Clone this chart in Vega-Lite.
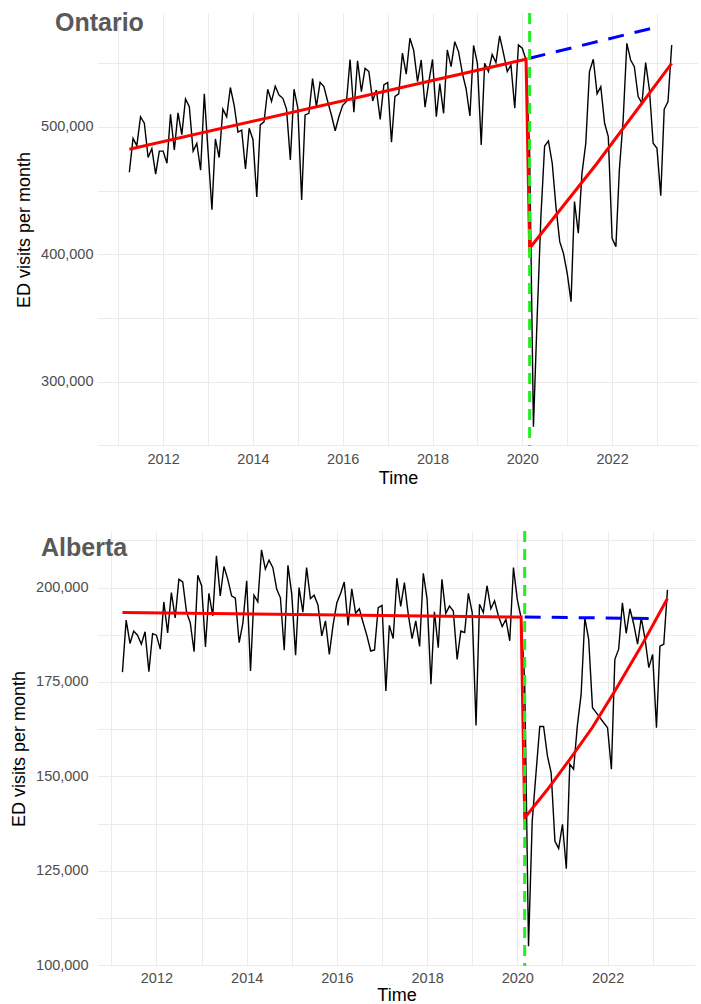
{
"$schema": "https://vega.github.io/schema/vega-lite/v6.json",
"background": "white",
"padding": {"left": 10, "top": 10, "right": 1, "bottom": 0},
"config": {
  "view": {"stroke": null},
  "font": "Liberation Sans",
  "axis": {"grid": true, "gridColor": "#EBEBEB", "gridWidth": 1, "ticks": false, "tickSize": 0, "domain": false, "labelColor": "#4D4D4D", "labelFont": "Liberation Sans", "labelFontSize": 14.5, "titleFont": "Liberation Sans", "titleFontSize": 18, "titleFontWeight": "normal", "titleColor": "#000000"},
  "title": {"font": "Liberation Sans", "fontSize": 25, "fontWeight": "bold", "color": "#595959", "anchor": "start"},
  "concat": {"spacing": 41}
},
"datasets": {
"on_obs": [
{"date":"2011-04-01","visits":464400},{"date":"2011-05-01","visits":491000},{"date":"2011-06-01","visits":485300},{"date":"2011-07-01","visits":508000},{"date":"2011-08-01","visits":503000},{"date":"2011-09-01","visits":476000},{"date":"2011-10-01","visits":483000},{"date":"2011-11-01","visits":463000},{"date":"2011-12-01","visits":481000},
{"date":"2012-01-01","visits":481000},{"date":"2012-02-01","visits":471500},{"date":"2012-03-01","visits":510000},{"date":"2012-04-01","visits":482000},{"date":"2012-05-01","visits":511000},{"date":"2012-06-01","visits":494000},{"date":"2012-07-01","visits":522000},{"date":"2012-08-01","visits":516000},{"date":"2012-09-01","visits":481000},{"date":"2012-10-01","visits":487000},{"date":"2012-11-01","visits":466000},{"date":"2012-12-01","visits":526000},
{"date":"2013-01-01","visits":480000},{"date":"2013-02-01","visits":435000},{"date":"2013-03-01","visits":490600},{"date":"2013-04-01","visits":476000},{"date":"2013-05-01","visits":514000},{"date":"2013-06-01","visits":508000},{"date":"2013-07-01","visits":531000},{"date":"2013-08-01","visits":517000},{"date":"2013-09-01","visits":496000},{"date":"2013-10-01","visits":497600},{"date":"2013-11-01","visits":467000},{"date":"2013-12-01","visits":499000},
{"date":"2014-01-01","visits":490000},{"date":"2014-02-01","visits":445000},{"date":"2014-03-01","visits":501600},{"date":"2014-04-01","visits":504000},{"date":"2014-05-01","visits":529600},{"date":"2014-06-01","visits":520000},{"date":"2014-07-01","visits":532000},{"date":"2014-08-01","visits":525000},{"date":"2014-09-01","visits":522500},{"date":"2014-10-01","visits":514000},{"date":"2014-11-01","visits":474000},{"date":"2014-12-01","visits":529600},
{"date":"2015-01-01","visits":514700},{"date":"2015-02-01","visits":442600},{"date":"2015-03-01","visits":509400},{"date":"2015-04-01","visits":510700},{"date":"2015-05-01","visits":538000},{"date":"2015-06-01","visits":516000},{"date":"2015-07-01","visits":535000},{"date":"2015-08-01","visits":531700},{"date":"2015-09-01","visits":520000},{"date":"2015-10-01","visits":509400},{"date":"2015-11-01","visits":497000},{"date":"2015-12-01","visits":508000},
{"date":"2016-01-01","visits":517000},{"date":"2016-02-01","visits":520000},{"date":"2016-03-01","visits":553000},{"date":"2016-04-01","visits":511500},{"date":"2016-05-01","visits":552000},{"date":"2016-06-01","visits":527700},{"date":"2016-07-01","visits":546000},{"date":"2016-08-01","visits":543500},{"date":"2016-09-01","visits":520400},{"date":"2016-10-01","visits":529000},{"date":"2016-11-01","visits":506000},{"date":"2016-12-01","visits":533000},
{"date":"2017-01-01","visits":535000},{"date":"2017-02-01","visits":488000},{"date":"2017-03-01","visits":524000},{"date":"2017-04-01","visits":526000},{"date":"2017-05-01","visits":558000},{"date":"2017-06-01","visits":541500},{"date":"2017-07-01","visits":569700},{"date":"2017-08-01","visits":560000},{"date":"2017-09-01","visits":535600},{"date":"2017-10-01","visits":552600},{"date":"2017-11-01","visits":515500},{"date":"2017-12-01","visits":535000},
{"date":"2018-01-01","visits":553000},{"date":"2018-02-01","visits":508000},{"date":"2018-03-01","visits":534000},{"date":"2018-04-01","visits":510700},{"date":"2018-05-01","visits":560500},{"date":"2018-06-01","visits":547400},{"date":"2018-07-01","visits":567000},{"date":"2018-08-01","visits":559000},{"date":"2018-09-01","visits":542000},{"date":"2018-10-01","visits":530000},{"date":"2018-11-01","visits":508600},{"date":"2018-12-01","visits":564000},
{"date":"2019-01-01","visits":550000},{"date":"2019-02-01","visits":485900},{"date":"2019-03-01","visits":550000},{"date":"2019-04-01","visits":543500},{"date":"2019-05-01","visits":557000},{"date":"2019-06-01","visits":550500},{"date":"2019-07-01","visits":571500},{"date":"2019-08-01","visits":558000},{"date":"2019-09-01","visits":543500},{"date":"2019-10-01","visits":548700},{"date":"2019-11-01","visits":514700},{"date":"2019-12-01","visits":564400},
{"date":"2020-01-01","visits":561800},{"date":"2020-02-01","visits":552600},{"date":"2020-03-01","visits":480000},{"date":"2020-04-01","visits":264600},{"date":"2020-05-01","visits":350000},{"date":"2020-06-01","visits":430000},{"date":"2020-07-01","visits":485000},{"date":"2020-08-01","visits":489000},{"date":"2020-09-01","visits":471500},{"date":"2020-10-01","visits":437400},{"date":"2020-11-01","visits":409900},{"date":"2020-12-01","visits":400800},
{"date":"2021-01-01","visits":385000},{"date":"2021-02-01","visits":362800},{"date":"2021-03-01","visits":441400},{"date":"2021-04-01","visits":416500},{"date":"2021-05-01","visits":463600},{"date":"2021-06-01","visits":487200},{"date":"2021-07-01","visits":543500},{"date":"2021-08-01","visits":553200},{"date":"2021-09-01","visits":526000},{"date":"2021-10-01","visits":531700},{"date":"2021-11-01","visits":502900},{"date":"2021-12-01","visits":492400},
{"date":"2022-01-01","visits":412600},{"date":"2022-02-01","visits":406000},{"date":"2022-03-01","visits":466200},{"date":"2022-04-01","visits":505500},{"date":"2022-05-01","visits":565700},{"date":"2022-06-01","visits":552600},{"date":"2022-07-01","visits":547400},{"date":"2022-08-01","visits":523800},{"date":"2022-09-01","visits":518600},{"date":"2022-10-01","visits":550500},{"date":"2022-11-01","visits":529000},{"date":"2022-12-01","visits":487200},
{"date":"2023-01-01","visits":483300},{"date":"2023-02-01","visits":446000},{"date":"2023-03-01","visits":513900},{"date":"2023-04-01","visits":519900},{"date":"2023-05-01","visits":564400}
],
"on_fit": [
{"date":"2011-04-01","visits":482500},{"date":"2020-02-01","visits":553200},{"date":"2020-03-01","visits":404700},{"date":"2021-09-01","visits":471500},{"date":"2023-05-01","visits":550000}
],
"on_cf": [
{"date":"2020-03-01","visits":554000},{"date":"2023-01-01","visits":578500}
],
"ab_obs": [
{"date":"2011-04-01","visits":177600},{"date":"2011-05-01","visits":191400},{"date":"2011-06-01","visits":185200},{"date":"2011-07-01","visits":188500},{"date":"2011-08-01","visits":187400},{"date":"2011-09-01","visits":185000},{"date":"2011-10-01","visits":188300},{"date":"2011-11-01","visits":177700},{"date":"2011-12-01","visits":187800},
{"date":"2012-01-01","visits":187400},{"date":"2012-02-01","visits":183700},{"date":"2012-03-01","visits":196200},{"date":"2012-04-01","visits":188000},{"date":"2012-05-01","visits":198700},{"date":"2012-06-01","visits":192000},{"date":"2012-07-01","visits":202200},{"date":"2012-08-01","visits":201500},{"date":"2012-09-01","visits":193500},{"date":"2012-10-01","visits":190700},{"date":"2012-11-01","visits":183000},{"date":"2012-12-01","visits":203300},
{"date":"2013-01-01","visits":200500},{"date":"2013-02-01","visits":184300},{"date":"2013-03-01","visits":198500},{"date":"2013-04-01","visits":192500},{"date":"2013-05-01","visits":208400},{"date":"2013-06-01","visits":197800},{"date":"2013-07-01","visits":205600},{"date":"2013-08-01","visits":202200},{"date":"2013-09-01","visits":197800},{"date":"2013-10-01","visits":197200},{"date":"2013-11-01","visits":185400},{"date":"2013-12-01","visits":190600},
{"date":"2014-01-01","visits":201800},{"date":"2014-02-01","visits":177900},{"date":"2014-03-01","visits":198000},{"date":"2014-04-01","visits":196200},{"date":"2014-05-01","visits":210000},{"date":"2014-06-01","visits":204900},{"date":"2014-07-01","visits":207300},{"date":"2014-08-01","visits":205300},{"date":"2014-09-01","visits":199600},{"date":"2014-10-01","visits":197300},{"date":"2014-11-01","visits":183400},{"date":"2014-12-01","visits":205900},
{"date":"2015-01-01","visits":198200},{"date":"2015-02-01","visits":182100},{"date":"2015-03-01","visits":200000},{"date":"2015-04-01","visits":193500},{"date":"2015-05-01","visits":205300},{"date":"2015-06-01","visits":197100},{"date":"2015-07-01","visits":198000},{"date":"2015-08-01","visits":195400},{"date":"2015-09-01","visits":187200},{"date":"2015-10-01","visits":191200},{"date":"2015-11-01","visits":182300},{"date":"2015-12-01","visits":190000},
{"date":"2016-01-01","visits":196000},{"date":"2016-02-01","visits":198500},{"date":"2016-03-01","visits":201500},{"date":"2016-04-01","visits":190000},{"date":"2016-05-01","visits":199700},{"date":"2016-06-01","visits":193200},{"date":"2016-07-01","visits":194400},{"date":"2016-08-01","visits":190700},{"date":"2016-09-01","visits":187200},{"date":"2016-10-01","visits":183200},{"date":"2016-11-01","visits":183500},{"date":"2016-12-01","visits":194700},
{"date":"2017-01-01","visits":195300},{"date":"2017-02-01","visits":172600},{"date":"2017-03-01","visits":190000},{"date":"2017-04-01","visits":186500},{"date":"2017-05-01","visits":202500},{"date":"2017-06-01","visits":195000},{"date":"2017-07-01","visits":201300},{"date":"2017-08-01","visits":193000},{"date":"2017-09-01","visits":186500},{"date":"2017-10-01","visits":191200},{"date":"2017-11-01","visits":184400},{"date":"2017-12-01","visits":203800},
{"date":"2018-01-01","visits":196900},{"date":"2018-02-01","visits":174400},{"date":"2018-03-01","visits":193600},{"date":"2018-04-01","visits":184100},{"date":"2018-05-01","visits":202200},{"date":"2018-06-01","visits":193200},{"date":"2018-07-01","visits":195100},{"date":"2018-08-01","visits":193800},{"date":"2018-09-01","visits":181000},{"date":"2018-10-01","visits":188500},{"date":"2018-11-01","visits":188100},{"date":"2018-12-01","visits":198500},
{"date":"2019-01-01","visits":193400},{"date":"2019-02-01","visits":163500},{"date":"2019-03-01","visits":195600},{"date":"2019-04-01","visits":193400},{"date":"2019-05-01","visits":200500},{"date":"2019-06-01","visits":194400},{"date":"2019-07-01","visits":196500},{"date":"2019-08-01","visits":192500},{"date":"2019-09-01","visits":189700},{"date":"2019-10-01","visits":191600},{"date":"2019-11-01","visits":185900},{"date":"2019-12-01","visits":205300},
{"date":"2020-01-01","visits":196900},{"date":"2020-02-01","visits":192000},{"date":"2020-03-01","visits":175000},{"date":"2020-04-01","visits":105000},{"date":"2020-05-01","visits":138200},{"date":"2020-06-01","visits":151000},{"date":"2020-07-01","visits":163200},{"date":"2020-08-01","visits":163200},{"date":"2020-09-01","visits":155400},{"date":"2020-10-01","visits":151000},{"date":"2020-11-01","visits":132800},{"date":"2020-12-01","visits":130900},
{"date":"2021-01-01","visits":137300},{"date":"2021-02-01","visits":125500},{"date":"2021-03-01","visits":153200},{"date":"2021-04-01","visits":151900},{"date":"2021-05-01","visits":163300},{"date":"2021-06-01","visits":171700},{"date":"2021-07-01","visits":192000},{"date":"2021-08-01","visits":186300},{"date":"2021-09-01","visits":168200},{"date":"2021-10-01","visits":166900},{"date":"2021-11-01","visits":165500},{"date":"2021-12-01","visits":164200},
{"date":"2022-01-01","visits":162900},{"date":"2022-02-01","visits":151900},{"date":"2022-03-01","visits":181000},{"date":"2022-04-01","visits":183700},{"date":"2022-05-01","visits":196000},{"date":"2022-06-01","visits":187900},{"date":"2022-07-01","visits":194400},{"date":"2022-08-01","visits":190300},{"date":"2022-09-01","visits":185000},{"date":"2022-10-01","visits":192000},{"date":"2022-11-01","visits":186300},{"date":"2022-12-01","visits":178800},
{"date":"2023-01-01","visits":182300},{"date":"2023-02-01","visits":162900},{"date":"2023-03-01","visits":184500},{"date":"2023-04-01","visits":185000},{"date":"2023-05-01","visits":199400}
],
"ab_fit": [
{"date":"2011-04-01","visits":193400},{"date":"2020-02-01","visits":192200},{"date":"2020-03-01","visits":139000},{"date":"2020-09-01","visits":146500},{"date":"2021-03-01","visits":154500},{"date":"2021-09-01","visits":163000},{"date":"2022-03-01","visits":172600},{"date":"2022-10-01","visits":184500},{"date":"2023-05-01","visits":197100}
],
"ab_cf": [
{"date":"2020-03-01","visits":192200},{"date":"2023-02-01","visits":191800}
],
"intervention": [{"date":"2020-03-01"}]
},
"vconcat": [
{
  "title": {"text": "Ontario", "frame": "group", "anchor": "start", "offset": 0, "baseline": "alphabetic", "dx": -43, "dy": 44.4},
  "width": 600, "height": 433,
  "layer": [
    {"data": {"name": "on_obs"}, "mark": {"type": "line", "color": "#000000", "strokeWidth": 1.4},
     "encoding": {
       "x": {"field": "date", "type": "temporal", "title": "Time",
             "scale": {"type": "utc", "domain": [{"year": 2010, "month": 7, "date": 20, "utc": true}, {"year": 2023, "month": 12, "date": 1, "utc": true}]},
             "axis": {"format": "%Y", "labelPadding": 6, "titlePadding": 4,
                      "values": [{"year":2011,"utc":true},{"year":2012,"utc":true},{"year":2013,"utc":true},{"year":2014,"utc":true},{"year":2015,"utc":true},{"year":2016,"utc":true},{"year":2017,"utc":true},{"year":2018,"utc":true},{"year":2019,"utc":true},{"year":2020,"utc":true},{"year":2021,"utc":true},{"year":2022,"utc":true},{"year":2023,"utc":true}],
                      "labelExpr": "utcyear(datum.value) % 2 === 0 ? datum.label : ''"}},
       "y": {"field": "visits", "type": "quantitative", "title": "ED visits per month",
             "scale": {"domain": [249400, 589500], "nice": false, "zero": false},
             "axis": {"labelPadding": 5, "titlePadding": 7, "values": [250000, 300000, 350000, 400000, 450000, 500000, 550000],
                      "labelExpr": "datum.value % 100000 === 0 ? format(datum.value, ',') : ''"}}
     }},
    {"data": {"name": "on_fit"}, "mark": {"type": "line", "color": "#FF0000", "strokeWidth": 3},
     "encoding": {"x": {"field": "date", "type": "temporal"}, "y": {"field": "visits", "type": "quantitative"}}},
    {"data": {"name": "on_cf"}, "mark": {"type": "line", "color": "#0000FF", "strokeWidth": 3, "strokeDash": [16, 11]},
     "encoding": {"x": {"field": "date", "type": "temporal"}, "y": {"field": "visits", "type": "quantitative"}}},
    {"data": {"name": "intervention"}, "mark": {"type": "rule", "color": "#22EE22", "strokeWidth": 3, "strokeDash": [11, 7]},
     "encoding": {"x": {"field": "date", "type": "temporal"}}}
  ]
},
{
  "title": {"text": "Alberta", "frame": "group", "anchor": "start", "offset": 0, "baseline": "alphabetic", "dx": -57, "dy": 51.4},
  "width": 597, "height": 435,
  "layer": [
    {"data": {"name": "ab_obs"}, "mark": {"type": "line", "color": "#000000", "strokeWidth": 1.4},
     "encoding": {
       "x": {"field": "date", "type": "temporal", "title": "Time",
             "scale": {"type": "utc", "domain": [{"year": 2010, "month": 9, "date": 15, "utc": true}, {"year": 2023, "month": 12, "date": 10, "utc": true}]},
             "axis": {"format": "%Y", "labelPadding": 5, "titlePadding": 2,
                      "values": [{"year":2011,"utc":true},{"year":2012,"utc":true},{"year":2013,"utc":true},{"year":2014,"utc":true},{"year":2015,"utc":true},{"year":2016,"utc":true},{"year":2017,"utc":true},{"year":2018,"utc":true},{"year":2019,"utc":true},{"year":2020,"utc":true},{"year":2021,"utc":true},{"year":2022,"utc":true},{"year":2023,"utc":true}],
                      "labelExpr": "utcyear(datum.value) % 2 === 0 ? datum.label : ''"}},
       "y": {"field": "visits", "type": "quantitative", "title": "ED visits per month",
             "scale": {"domain": [99750, 215000], "nice": false, "zero": false},
             "axis": {"labelPadding": 10, "titlePadding": 7, "values": [100000, 112500, 125000, 137500, 150000, 162500, 175000, 187500, 200000, 212500],
                      "labelExpr": "datum.value % 25000 === 0 ? format(datum.value, ',') : ''"}}
     }},
    {"data": {"name": "ab_fit"}, "mark": {"type": "line", "color": "#FF0000", "strokeWidth": 3},
     "encoding": {"x": {"field": "date", "type": "temporal"}, "y": {"field": "visits", "type": "quantitative"}}},
    {"data": {"name": "ab_cf"}, "mark": {"type": "line", "color": "#0000FF", "strokeWidth": 3, "strokeDash": [16, 11]},
     "encoding": {"x": {"field": "date", "type": "temporal"}, "y": {"field": "visits", "type": "quantitative"}}},
    {"data": {"name": "intervention"}, "mark": {"type": "rule", "color": "#22EE22", "strokeWidth": 3, "strokeDash": [11, 7]},
     "encoding": {"x": {"field": "date", "type": "temporal"}}}
  ]
}
]
}
